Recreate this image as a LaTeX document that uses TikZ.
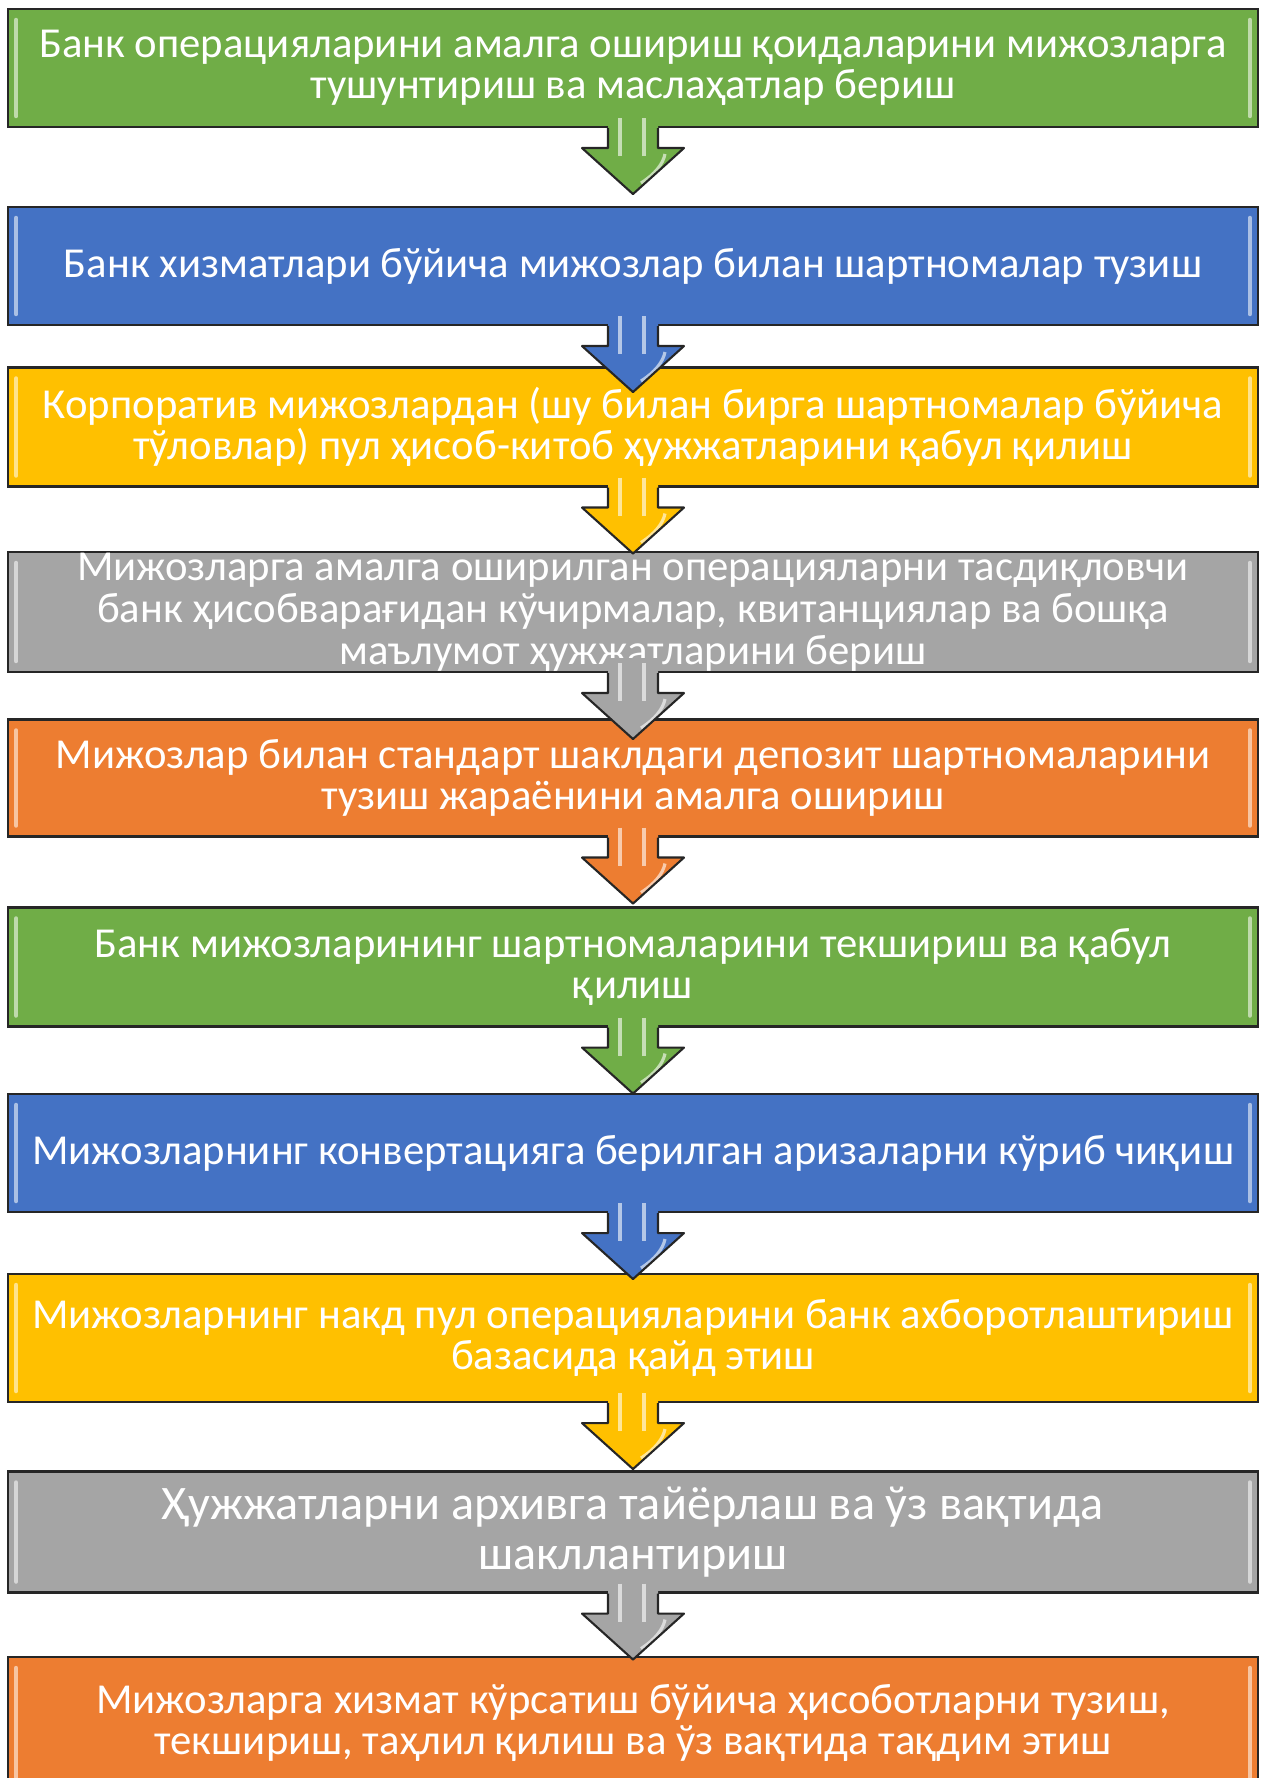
\documentclass[tikz,border=0pt]{standalone}
\usepackage{fontspec}
\setmainfont{Carlito}

\definecolor{boxgreen}{HTML}{70AD47}
\definecolor{boxblue}{HTML}{4472C4}
\definecolor{boxyellow}{HTML}{FFC000}
\definecolor{boxgray}{HTML}{A5A5A5}
\definecolor{boxorange}{HTML}{ED7D31}

\tikzset{
  stepbox/.style={draw=black!85, line width=1.2pt, fill=#1, text=white,
    minimum width=25cm, minimum height=2.36cm, inner sep=0pt, align=center,
    font=\fontsize{24.3pt}{23.6pt}\selectfont},
  bigtext/.style={font=\fontsize{27.4pt}{28.3pt}\selectfont},
}

% light bevel strips on the left and right sides of a box
\newcommand\bevel[2]{%
  \draw[#2!45!white, line width=2.5pt, line cap=round]
    ([shift={(9,12)}]#1.north west) -- ([shift={(9,-12)}]#1.south west)
    ([shift={(-9,12)}]#1.north east) -- ([shift={(-9,-12)}]#1.south east);
}

% thick block arrow hanging below a box
\newcommand\flowarrow[2]{%
  \begin{scope}[shift={(#1.south)}]
    \fill[#2] (-25,-15) -- (-25,20) -- (-51,20) -- (0,66) -- (51,20) -- (25,20) -- (25,-15) -- cycle;
    \draw[#2!40!white, line width=2.4pt] (-13,-10) -- (-13,28) (11,-10) -- (11,28);
    \draw[#2!40!white, line width=1.8pt] (8,55) .. controls (22,46) and (30,36) .. (32,26);
    \draw[black!85, line width=1.2pt, line join=round]
      (-25,0) -- (-25,20) -- (-51,20) -- (0,66) -- (51,20) -- (25,20) -- (25,0);
  \end{scope}}

\begin{document}
\begin{tikzpicture}[x=0.02cm,y=-0.02cm]
\useasboundingbox (0,0) rectangle (1265,1778);

\node[stepbox=boxgreen] (b1) at (633,68)
  {Банк операцияларини амалга ошириш қоидаларини мижозларга\\тушунтириш ва маслаҳатлар бериш};
\node[stepbox=boxblue] (b2) at (633,266)
  {Банк хизматлари бўйича мижозлар билан шартномалар тузиш};
\node[stepbox=boxyellow, minimum height=2.38cm] (b3) at (633,427)
  {Корпоратив мижозлардан (шу билан бирга шартномалар бўйича\\тўловлар) пул ҳисоб-китоб ҳужжатларини қабул қилиш};
\node[stepbox=boxgray, minimum height=2.4cm, font=\fontsize{24.3pt}{24pt}\selectfont] (b4) at (633,612)
  {Мижозларга амалга оширилган операцияларни тасдиқловчи\\банк ҳисобварағидан кўчирмалар, квитанциялар ва бошқа\\маълумот ҳужжатларини бериш};
\node[stepbox=boxorange, minimum height=2.34cm] (b5) at (633,778)
  {Мижозлар билан стандарт шаклдаги депозит шартномаларини\\тузиш жараёнини амалга ошириш};
\node[stepbox=boxgreen, minimum height=2.38cm] (b6) at (633,967)
  {Банк мижозларининг шартномаларини текшириш ва қабул\\қилиш};
\node[stepbox=boxblue] (b7) at (633,1153)
  {Мижозларнинг конвертацияга берилган аризаларни кўриб чиқиш};
\node[stepbox=boxyellow, minimum height=2.56cm] (b8) at (633,1338)
  {Мижозларнинг накд пул операцияларини банк ахборотлаштириш\\базасида қайд этиш};
\node[stepbox=boxgray, bigtext, minimum height=2.42cm] (b9) at (633,1532)
  {Ҳужжатларни архивга тайёрлаш ва ўз вақтида\\шакллантириш};
\node[stepbox=boxorange, minimum height=2.64cm] (b10) at (633,1723)
  {Мижозларга хизмат кўрсатиш бўйича ҳисоботларни тузиш,\\текшириш, таҳлил қилиш ва ўз вақтида тақдим этиш};

\bevel{b1}{boxgreen}
\bevel{b2}{boxblue}
\bevel{b3}{boxyellow}
\bevel{b4}{boxgray}
\bevel{b5}{boxorange}
\bevel{b6}{boxgreen}
\bevel{b7}{boxblue}
\bevel{b8}{boxyellow}
\bevel{b9}{boxgray}
\bevel{b10}{boxorange}

\flowarrow{b1}{boxgreen}
\flowarrow{b2}{boxblue}
\flowarrow{b3}{boxyellow}
\flowarrow{b4}{boxgray}
\flowarrow{b5}{boxorange}
\flowarrow{b6}{boxgreen}
\flowarrow{b7}{boxblue}
\flowarrow{b8}{boxyellow}
\flowarrow{b9}{boxgray}
\end{tikzpicture}
\end{document}
